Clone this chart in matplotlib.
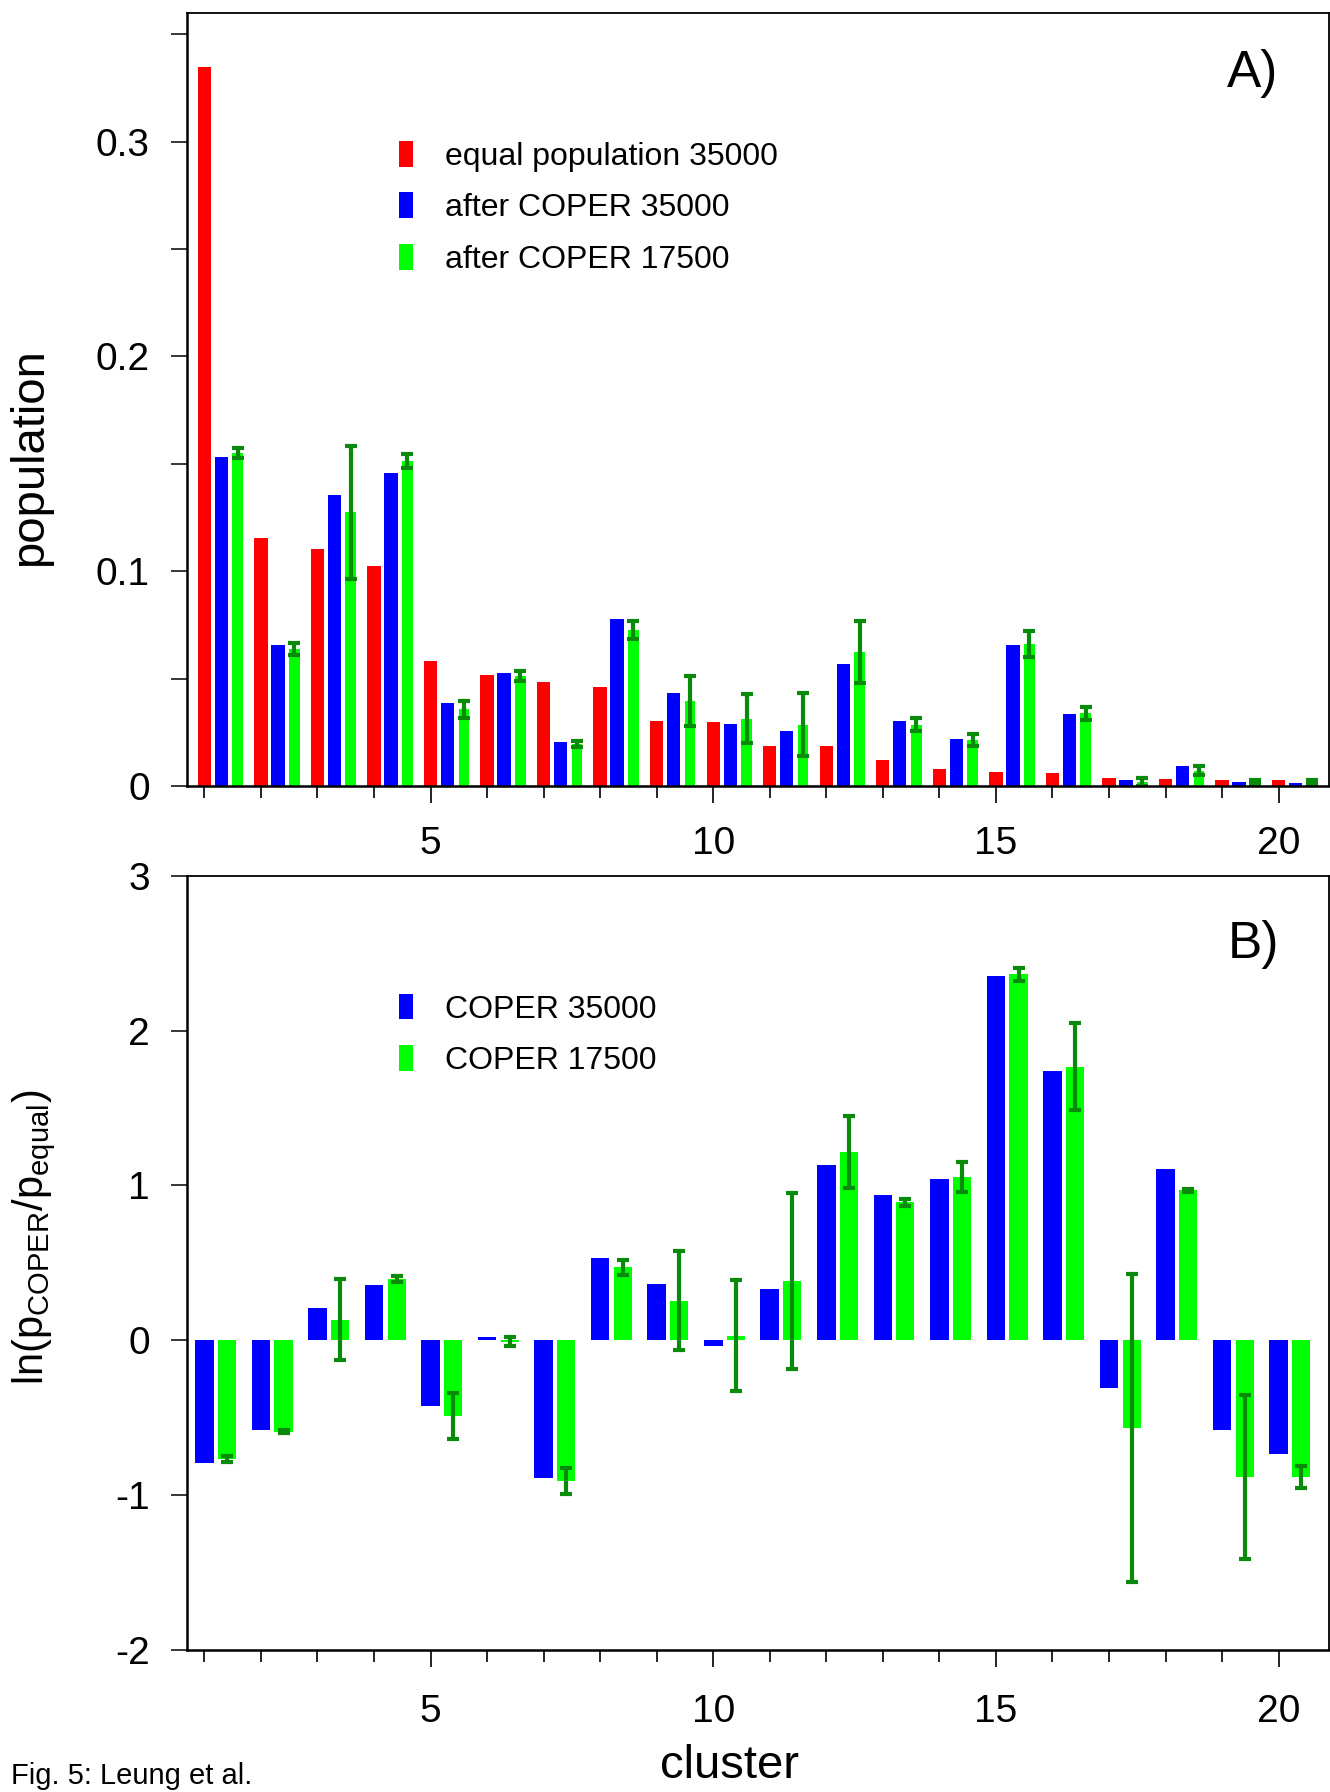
import matplotlib
matplotlib.use('Agg')
import matplotlib.pyplot as plt
from matplotlib.patches import Patch
from matplotlib.ticker import FixedLocator, FuncFormatter
import numpy as np

plt.rcParams['font.family'] = ['Liberation Sans', 'DejaVu Sans']
plt.rcParams['mathtext.fontset'] = 'custom'
plt.rcParams['mathtext.rm'] = 'Liberation Sans'
plt.rcParams['mathtext.it'] = 'Liberation Sans'
plt.rcParams['axes.unicode_minus'] = False

# ---------------- data ----------------
clusters = list(range(1, 21))
equal_pop = [0.335, 0.1157, 0.1105, 0.1026, 0.0581, 0.0517, 0.0486, 0.046, 0.0302, 0.0298,
             0.0188, 0.0186, 0.0121, 0.0081, 0.0067, 0.0062, 0.0036, 0.0033, 0.0026, 0.0026]
coper_35000 = [0.1531, 0.0657, 0.1357, 0.1457, 0.0386, 0.0524, 0.0205, 0.0779, 0.0433, 0.0288,
               0.0257, 0.0567, 0.0302, 0.0221, 0.0657, 0.0333, 0.0029, 0.0093, 0.0017, 0.0014]
coper_17500 = [0.155, 0.0638, 0.1274, 0.1512, 0.0357, 0.0512, 0.0195, 0.0726, 0.0395, 0.0314,
               0.0286, 0.0624, 0.0286, 0.0214, 0.0662, 0.0338, 0.0019, 0.0071, 0.0019, 0.0019]
coper_17500_err = [0.0025, 0.0027, 0.031, 0.0033, 0.004, 0.0024, 0.0014, 0.004, 0.0118, 0.0113,
                   0.0148, 0.0143, 0.0029, 0.003, 0.006, 0.0032, 0.002, 0.002, 0.0008, 0.0008]

ln_35000 = [-0.792, -0.578, 0.210, 0.357, -0.424, 0.02, -0.893, 0.533, 0.364, -0.04,
            0.333, 1.132, 0.939, 1.041, 2.355, 1.738, -0.308, 1.104, -0.578, -0.736]
ln_17500 = [-0.767, -0.592, 0.133, 0.396, -0.49, -0.01, -0.908, 0.47, 0.256, 0.03,
            0.382, 1.216, 0.89, 1.055, 2.365, 1.769, -0.568, 0.97, -0.883, -0.883]
ln_17500_err = [0.02, 0.01, 0.26, 0.02, 0.147, 0.03, 0.084, 0.05, 0.32, 0.36,
                0.57, 0.23, 0.02, 0.096, 0.04, 0.284, 0.995, 0.01, 0.53, 0.07]

labels_A = ['equal population 35000', 'after COPER 35000', 'after COPER 17500']
labels_B = ['COPER 35000', 'COPER 17500']
xtick_major = [5, 10, 15, 20]

RED, BLUE, GREEN, ERR = '#ff0000', '#0000ff', '#00ff00', '#0a8a0a'

x = np.array(clusters, dtype=float)

fig = plt.figure(figsize=(13.3, 17.92), dpi=100)
axA = fig.add_axes([0.1409, 0.5614, 0.8583, 0.4314])
axB = fig.add_axes([0.1409, 0.0795, 0.8583, 0.4316])

err_kw = dict(ecolor=ERR, elinewidth=3.0, capsize=4.3, capthick=3.0)

# ---- panel A ----
axA.bar(x, equal_pop, width=0.235, color=RED, linewidth=0, zorder=2)
axA.bar(x + 0.30, coper_35000, width=0.235, color=BLUE, linewidth=0, zorder=2)
axA.bar(x + 0.59, coper_17500, width=0.19, color=GREEN, linewidth=0, zorder=2,
        yerr=coper_17500_err, error_kw=err_kw)
axA.set_xlim(0.70, 20.89)
axA.set_ylim(0, 0.36)
axA.yaxis.set_major_locator(FixedLocator([0, 0.1, 0.2, 0.3]))
axA.yaxis.set_minor_locator(FixedLocator([0.05, 0.15, 0.25, 0.35]))
axA.yaxis.set_major_formatter(FuncFormatter(lambda v, p: '%g' % round(v, 3)))
axA.set_ylabel('population', fontsize=34)
axA.yaxis.set_label_coords(-0.1186, 0.4256)
axA.text(0.911, 0.904, 'A)', transform=axA.transAxes, fontsize=37, va='baseline', ha='left')
handlesA = [Patch(color=c, linewidth=0) for c in (RED, BLUE, GREEN)]
axA.legend(handlesA, labels_A, loc='upper left', bbox_to_anchor=(0.1858, 0.8346),
           frameon=False, fontsize=23, handlelength=0.42, handleheight=0.87,
           handletextpad=1.0, labelspacing=0.64, borderpad=0, borderaxespad=0)

# ---- panel B ----
axB.bar(x, ln_35000, width=0.33, color=BLUE, linewidth=0, zorder=2)
axB.bar(x + 0.40, ln_17500, width=0.32, color=GREEN, linewidth=0, zorder=2,
        yerr=ln_17500_err, error_kw=err_kw)
axB.set_xlim(0.70, 20.89)
axB.set_ylim(-2, 3)
axB.yaxis.set_major_locator(FixedLocator([-2, -1, 0, 1, 2, 3]))
axB.yaxis.set_major_formatter(FuncFormatter(lambda v, p: '%d' % v))
axB.set_ylabel(r'ln(p$_{\mathrm{COPER}}$/p$_{\mathrm{equal}}$)', fontsize=30)
axB.yaxis.set_label_coords(-0.1133, 0.5333)
axB.text(0.911, 0.894, 'B)', transform=axB.transAxes, fontsize=37, va='baseline', ha='left')
handlesB = [Patch(color=c, linewidth=0) for c in (BLUE, GREEN)]
axB.legend(handlesB, labels_B, loc='upper left', bbox_to_anchor=(0.1858, 0.8482),
           frameon=False, fontsize=23, handlelength=0.42, handleheight=0.87,
           handletextpad=1.0, labelspacing=0.64, borderpad=0, borderaxespad=0)
axB.set_xlabel('cluster', fontsize=34)
axB.xaxis.set_label_coords(0.4753, -0.1225)

for ax, xpad in ((axA, 16.5), (axB, 20.0)):
    ax.xaxis.set_major_locator(FixedLocator(xtick_major))
    ax.xaxis.set_minor_locator(FixedLocator([c for c in clusters if c not in xtick_major]))
    ax.tick_params(axis='x', which='major', direction='out', length=12.2, width=1.2,
                   labelsize=28, pad=xpad, top=False)
    ax.tick_params(axis='x', which='minor', direction='out', length=8.6, width=1.2, top=False)
    ax.tick_params(axis='y', which='both', direction='out', length=11.5, width=1.1,
                   labelsize=28, pad=15.5, right=False)
    for s in ('left', 'bottom'):
        ax.spines[s].set_linewidth(1.8)
    for s in ('top', 'right'):
        ax.spines[s].set_linewidth(1.3)

fig.text(11 / 1330, 0.0045, 'Fig. 5: Leung et al.', fontsize=21, ha='left', va='baseline')

fig.savefig('out.png', dpi=100)
